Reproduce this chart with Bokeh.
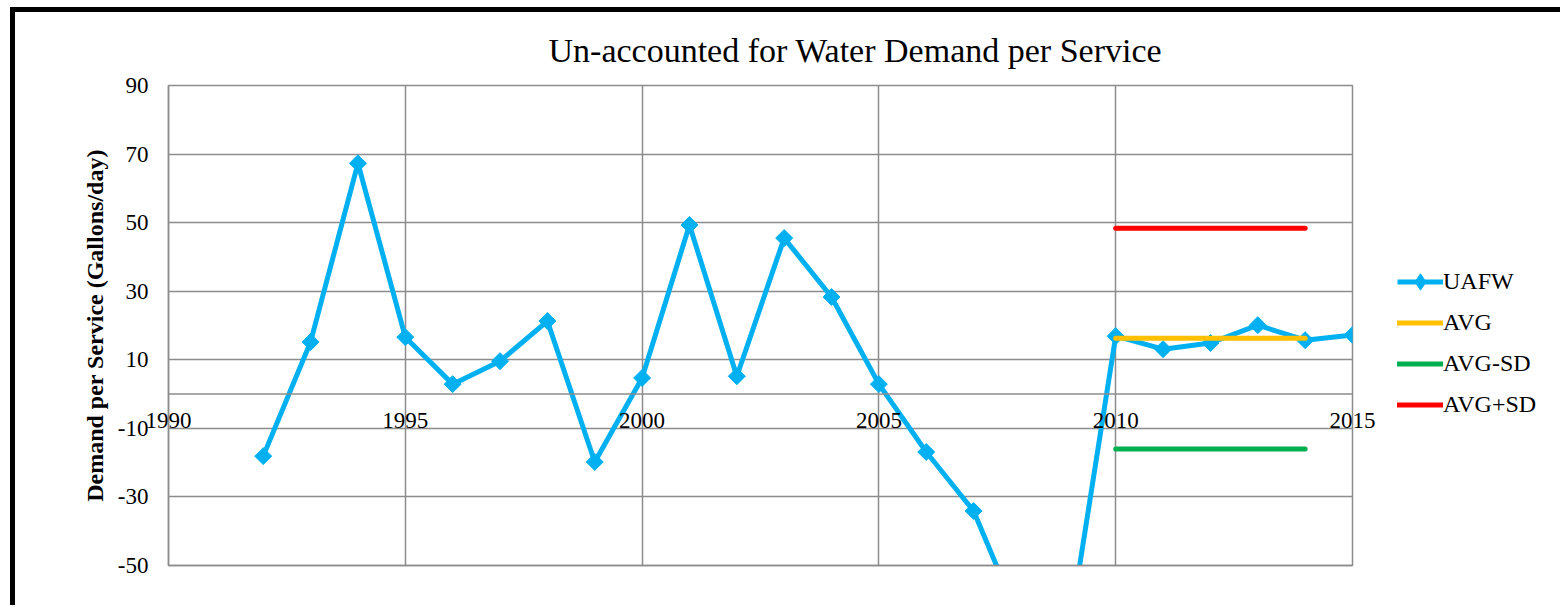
from bokeh.plotting import figure
from bokeh.models import (LinearAxis, Range1d, FixedTicker, Legend, LegendItem,
                          Title, ColumnDataSource, Grid, Span)
from bokeh.embed import file_html
from bokeh.resources import INLINE
import math

# ---- data ----
years = [1992, 1993, 1994, 1995, 1996, 1997, 1998, 1999, 2000, 2001, 2002, 2003,
         2004, 2005, 2006, 2007, 2008, 2009, 2010, 2011, 2012, 2013, 2014, 2015]
uafw = [-18.1, 15.2, 67.3, 16.6, 2.9, 9.6, 21.3, -19.8, 4.7, 49.3, 5.2, 45.5,
        28.3, 2.9, -16.9, -34.1, -67.0, -71.0, 16.9, 13.1, 14.9, 20.1, 15.7, 17.2]
stat_years = [2010, 2014]
avg = [16.3, 16.3]
avg_minus_sd = [-16.0, -16.0]
avg_plus_sd = [48.4, 48.4]
x_ticks = [1990, 1995, 2000, 2005, 2010, 2015]
y_ticks = [-50, -30, -10, 10, 30, 50, 70, 90]

SERIF = "Liberation Serif"
BLUE = "#00B0F0"
GRID = "#8C8C8C"

p = figure(frame_width=1184, frame_height=480, output_backend="svg",
           toolbar_location=None,
           x_range=Range1d(1990, 2015), y_range=Range1d(-50, 90),
           x_axis_location=None, y_axis_location=None,
           min_border_left=153, min_border_right=0, min_border_top=73,
           min_border_bottom=40)
p.styles = {"border-top": "5px solid black", "border-left": "5px solid black",
            "margin-left": "10px", "margin-top": "7px"}
p.outline_line_color = GRID
p.outline_line_width = 1.5
for g in list(p.grid):
    g.visible = False

# y axis (left)
yax = LinearAxis(ticker=FixedTicker(ticks=y_ticks),
                 axis_label="Demand per Service (Gallons/day)")
yax.major_label_overrides = {v: str(v) for v in y_ticks}
yax.axis_line_color = GRID
yax.axis_line_width = 1.5
yax.major_tick_line_color = None
yax.minor_tick_line_color = None
yax.major_tick_out = 0
yax.major_label_standoff = 20
yax.major_label_text_font = SERIF
yax.major_label_text_font_size = "23px"
yax.major_label_text_color = "black"
yax.axis_label_text_font = SERIF
yax.axis_label_text_font_size = "24px"
yax.axis_label_text_font_style = "bold"
yax.axis_label_text_color = "black"
yax.axis_label_standoff = 7
p.add_layout(yax, "left")

# x axis: labels lifted up to sit just under the zero line (as in the source chart)
xax = LinearAxis(ticker=FixedTicker(ticks=x_ticks))
xax.major_label_overrides = {v: str(v) for v in x_ticks}
xax.axis_line_color = GRID
xax.axis_line_width = 1.5
xax.major_tick_line_color = None
xax.minor_tick_line_color = None
xax.major_tick_out = 0
xax.major_tick_in = 0
xax.major_label_standoff = -153
xax.major_label_text_font = SERIF
xax.major_label_text_font_size = "23px"
xax.major_label_text_color = "black"
p.add_layout(xax, "below")

# grids
p.add_layout(Grid(dimension=0, ticker=FixedTicker(ticks=x_ticks),
                  grid_line_color=GRID, grid_line_width=1.5))
p.add_layout(Grid(dimension=1, ticker=FixedTicker(ticks=y_ticks),
                  grid_line_color=GRID, grid_line_width=1.5))
p.add_layout(Span(location=0, dimension="width", line_color=GRID, line_width=1.5))

# title
t = Title(text="Un-accounted for Water Demand per Service", align="left",
          offset=380, standoff=33, text_font=SERIF, text_font_size="34px",
          text_font_style="normal", text_color="black")
p.add_layout(t, "above")

# series
src = ColumnDataSource(dict(x=years, y=uafw))
l_u = p.line("x", "y", source=src, line_color=BLUE, line_width=5)
m_u = p.scatter("x", "y", source=src, marker="square", angle=math.pi / 4,
                size=12, fill_color=BLUE, line_color=BLUE)
# legend-only marker (not shown in the plot) so the legend shows a diamond
m_leg = p.scatter(x=[float("nan")], y=[float("nan")], marker="diamond", size=20,
                  fill_color=BLUE, line_color=BLUE)
l_avg = p.line(stat_years, avg, line_color="#FFC000", line_width=5, line_cap="round")
l_lo = p.line(stat_years, avg_minus_sd, line_color="#00B050", line_width=5, line_cap="round")
l_hi = p.line(stat_years, avg_plus_sd, line_color="#FF0000", line_width=5, line_cap="round")

legend = Legend(items=[
    LegendItem(label="UAFW", renderers=[l_u, m_leg]),
    LegendItem(label="AVG", renderers=[l_avg]),
    LegendItem(label="AVG-SD", renderers=[l_lo]),
    LegendItem(label="AVG+SD", renderers=[l_hi]),
], location=(45, 140))
legend.border_line_color = None
legend.background_fill_alpha = 0
legend.padding = 0
legend.margin = 0
legend.spacing = 0
legend.glyph_width = 46
legend.glyph_height = 41
legend.label_height = 20
legend.label_standoff = 0
legend.label_text_font = SERIF
legend.label_text_font_size = "24px"
legend.label_text_color = "black"
p.add_layout(legend, "right")

open("out.html", "w").write(file_html(p, INLINE))
